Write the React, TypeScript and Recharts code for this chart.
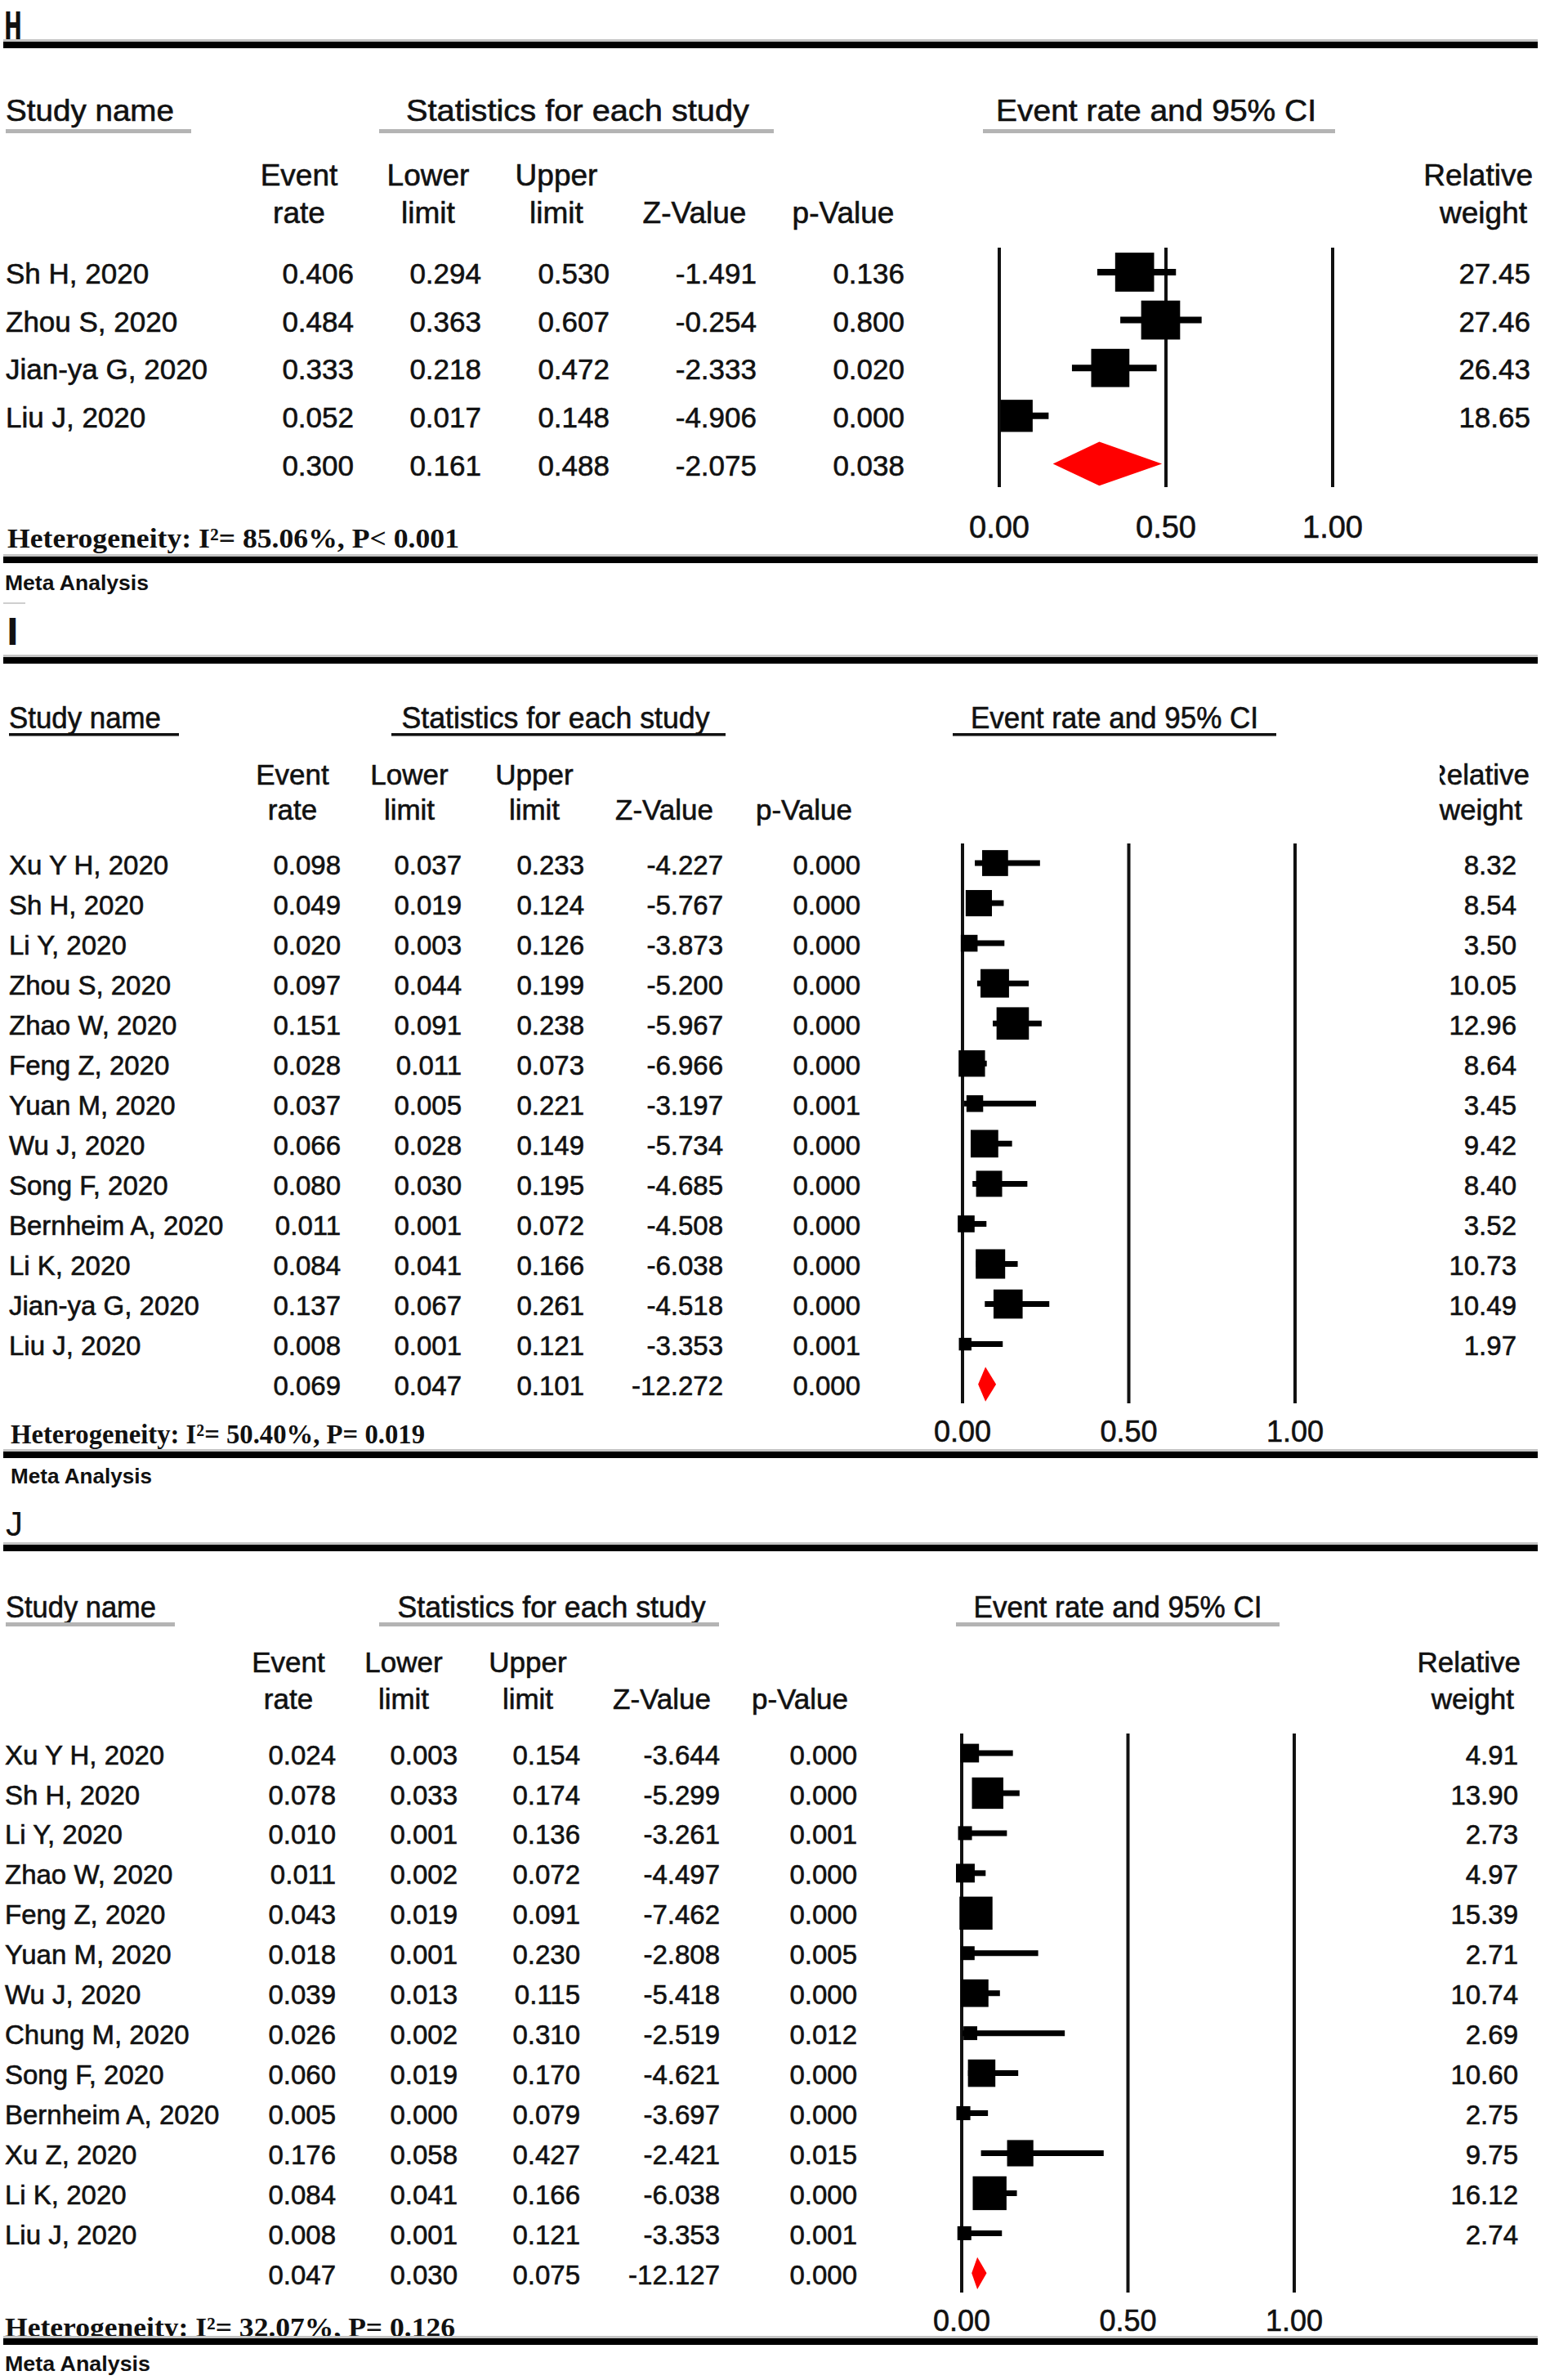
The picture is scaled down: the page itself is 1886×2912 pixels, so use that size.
import React from 'react';
import { ScatterChart, Scatter, XAxis, YAxis, ErrorBar, ReferenceLine } from 'recharts';

const PAGE_W = 1886;
const PAGE_H = 2912;
const AXIS_H = 20;

const SANS = "'Liberation Sans', Arial, Helvetica, sans-serif";
const SERIF = "'Liberation Serif', 'Times New Roman', serif";
const NARROW = "'Liberation Sans Narrow', 'DejaVu Sans Condensed', sans-serif";
const INK = 0.6; // slight stroke so the text looks as heavy as the scan

// ---------- panel H ----------
const studiesH = ['Sh H, 2020', 'Zhou S, 2020', 'Jian-ya G, 2020', 'Liu J, 2020'];
const rateH = [0.406, 0.484, 0.333, 0.052];
const lowerH = [0.294, 0.363, 0.218, 0.017];
const upperH = [0.53, 0.607, 0.472, 0.148];
const zH = [-1.491, -0.254, -2.333, -4.906];
const pH = [0.136, 0.8, 0.02, 0.0];
const weightH = [27.45, 27.46, 26.43, 18.65];
const pooledH = [0.3, 0.161, 0.488, -2.075, 0.038]; // rate, lower, upper, z, p
const hetH = 'Heterogeneity: I²= 85.06%, P< 0.001';

// ---------- panel I ----------
const studiesI = [
  'Xu Y H, 2020', 'Sh H, 2020', 'Li Y, 2020', 'Zhou S, 2020', 'Zhao W, 2020', 'Feng Z, 2020', 'Yuan M, 2020',
  'Wu J, 2020', 'Song F, 2020', 'Bernheim A, 2020', 'Li K, 2020', 'Jian-ya G, 2020', 'Liu J, 2020',
];
const rateI = [0.098, 0.049, 0.02, 0.097, 0.151, 0.028, 0.037, 0.066, 0.08, 0.011, 0.084, 0.137, 0.008];
const lowerI = [0.037, 0.019, 0.003, 0.044, 0.091, 0.011, 0.005, 0.028, 0.03, 0.001, 0.041, 0.067, 0.001];
const upperI = [0.233, 0.124, 0.126, 0.199, 0.238, 0.073, 0.221, 0.149, 0.195, 0.072, 0.166, 0.261, 0.121];
const zI = [-4.227, -5.767, -3.873, -5.2, -5.967, -6.966, -3.197, -5.734, -4.685, -4.508, -6.038, -4.518, -3.353];
const pI = [0, 0, 0, 0, 0, 0, 0.001, 0, 0, 0, 0, 0, 0.001];
const weightI = [8.32, 8.54, 3.5, 10.05, 12.96, 8.64, 3.45, 9.42, 8.4, 3.52, 10.73, 10.49, 1.97];
const pooledI = [0.069, 0.047, 0.101, -12.272, 0.0];
const hetI = 'Heterogeneity: I²= 50.40%, P= 0.019';

// ---------- panel J ----------
const studiesJ = [
  'Xu Y H, 2020', 'Sh H, 2020', 'Li Y, 2020', 'Zhao W, 2020', 'Feng Z, 2020', 'Yuan M, 2020', 'Wu J, 2020',
  'Chung M, 2020', 'Song F, 2020', 'Bernheim A, 2020', 'Xu Z, 2020', 'Li K, 2020', 'Liu J, 2020',
];
const rateJ = [0.024, 0.078, 0.01, 0.011, 0.043, 0.018, 0.039, 0.026, 0.06, 0.005, 0.176, 0.084, 0.008];
const lowerJ = [0.003, 0.033, 0.001, 0.002, 0.019, 0.001, 0.013, 0.002, 0.019, 0.0, 0.058, 0.041, 0.001];
const upperJ = [0.154, 0.174, 0.136, 0.072, 0.091, 0.23, 0.115, 0.31, 0.17, 0.079, 0.427, 0.166, 0.121];
const zJ = [-3.644, -5.299, -3.261, -4.497, -7.462, -2.808, -5.418, -2.519, -4.621, -3.697, -2.421, -6.038, -3.353];
const pJ = [0, 0, 0.001, 0, 0, 0.005, 0, 0.012, 0, 0, 0.015, 0, 0.001];
const weightJ = [4.91, 13.9, 2.73, 4.97, 15.39, 2.71, 10.74, 2.69, 10.6, 2.75, 9.75, 16.12, 2.74];
const pooledJ = [0.047, 0.03, 0.075, -12.127, 0.0];
const hetJ = 'Heterogeneity: I²= 32.07%, P= 0.126';

const axisTicks = [0, 0.5, 1];

type Row = {
  x: number; y: number; name: string; rate: number; lower: number; upper: number;
  z: number; p: number; weight: number | null; err?: number[];
};

const buildRows = (names: string[], rate: number[], lower: number[], upper: number[], z: number[], p: number[], weight: number[]): Row[] =>
  names.map((name, i) => ({
    x: rate[i], y: i, name, rate: rate[i], lower: lower[i], upper: upper[i], z: z[i], p: p[i], weight: weight[i],
    err: [rate[i] - lower[i], upper[i] - rate[i]],
  }));

// page-coordinate layout of each forest panel
const layoutH = {
  x0: 1223, x1: 1631, rowY0: 333, rowStep: 58.6, lineTop: 303, lineBottom: 596, tickY: 658, tickFont: 38,
  rowFont: 35, nameX: 7, colRight: [433, 589, 746, 926, 1107], weightRight: 1873, sqC: 9.1, ciW: 8, diaH: 0.46,
};
const layoutI = {
  x0: 1178, x1: 1585, rowY0: 1056, rowStep: 49.05, lineTop: 1032, lineBottom: 1717, tickY: 1764, tickFont: 36,
  rowFont: 33, nameX: 11, colRight: [417, 565, 715, 885, 1053], weightRight: 1856, sqC: 11, ciW: 7, diaH: 0.43,
};
const layoutJ = {
  x0: 1177, x1: 1584, rowY0: 2145, rowStep: 48.95, lineTop: 2121, lineBottom: 2805, tickY: 2852, tickFont: 36,
  rowFont: 33, nameX: 6, colRight: [411, 560, 710, 881, 1049], weightRight: 1858, sqC: 10.3, ciW: 7, diaH: 0.4,
};

type Layout = typeof layoutH;

const ForestChart = ({ rows, pooled, L }: { rows: Row[]; pooled: number[]; L: Layout }) => {
  const n = rows.length;
  const tableData: Row[] = [
    ...rows,
    { x: pooled[0], y: n, name: '', rate: pooled[0], lower: pooled[1], upper: pooled[2], z: pooled[3], p: pooled[4], weight: null },
  ];
  const diamond = [
    { x: pooled[1], y: n },
    { x: pooled[0], y: n - L.diaH },
    { x: pooled[2], y: n },
    { x: pooled[0], y: n + L.diaH },
  ];
  const domain = [(L.lineTop - L.rowY0) / L.rowStep, (L.lineBottom - L.rowY0) / L.rowStep];

  const square = (props: any) => {
    const { cx, cy, payload } = props;
    const s = L.sqC * Math.sqrt(payload.weight);
    return <rect x={cx - s / 2} y={cy - s / 2} width={s} height={s} fill="#000" />;
  };

  const textRow = (props: any) => {
    const { cy, payload } = props;
    const ty = cy + 0.35 * L.rowFont + 2;
    const cells = [payload.rate, payload.lower, payload.upper, payload.z, payload.p].map((v: number) => v.toFixed(3));
    return (
      <g fontFamily={SANS} fontSize={L.rowFont} fill="#111" stroke="#111" strokeWidth={INK}>
        {payload.name ? <text x={L.nameX} y={ty}>{payload.name}</text> : null}
        {cells.map((c: string, k: number) => (
          <text key={k} x={L.colRight[k]} y={ty} textAnchor="end">{c}</text>
        ))}
        {payload.weight != null ? (
          <text x={L.weightRight} y={ty} textAnchor="end">{payload.weight.toFixed(2)}</text>
        ) : null}
      </g>
    );
  };

  return (
    <div style={{ position: 'absolute', left: 0, top: 0 }}>
      <ScatterChart
        width={PAGE_W}
        height={PAGE_H}
        margin={{ top: L.lineTop, bottom: PAGE_H - L.lineBottom - AXIS_H, left: L.x0, right: PAGE_W - L.x1 }}
      >
        <XAxis
          type="number"
          dataKey="x"
          domain={[0, 1]}
          ticks={axisTicks}
          interval={0}
          axisLine={false}
          tickLine={false}
          height={AXIS_H}
          tick={(p: any) => (
            <text
              x={p.x}
              y={L.tickY}
              textAnchor="middle"
              fontSize={L.tickFont}
              fontFamily={SANS}
              fill="#111"
              stroke="#111"
              strokeWidth={INK}
            >
              {Number(p.payload.value).toFixed(2)}
            </text>
          )}
        />
        <YAxis type="number" dataKey="y" domain={domain} reversed hide width={0} />
        {axisTicks.map((v) => (
          <ReferenceLine key={v} x={v} stroke="#111" strokeWidth={4} />
        ))}
        <Scatter
          data={diamond}
          fill="#ff0000"
          isAnimationActive={false}
          shape={() => <g />}
          line={(p: any) => (
            <polygon points={p.points.map((pt: any) => `${pt.x},${pt.y}`).join(' ')} fill="#ff0000" stroke="none" />
          )}
        />
        <Scatter data={rows} shape={square} isAnimationActive={false}>
          <ErrorBar dataKey="err" direction="x" width={0} stroke="#000" strokeWidth={L.ciW} isAnimationActive={false} />
        </Scatter>
        <Scatter data={tableData} shape={textRow} isAnimationActive={false} />
      </ScatterChart>
    </div>
  );
};

// ---------- static frame (titles, rules, headers) ----------
type Frame = {
  letter: { t: string; x: number; y: number; fs: number; family: string; len?: number; bold?: boolean };
  topRule: number;
  bottomRule: number;
  head: { y: number; fs: number; studyX: number; studyLen: number; statsCx: number; statsLen: number; ciCx: number; ciLen: number; ulY: number; ulH: number; ulColor: string; ul: number[][] };
  cols: { y1: number; y2: number; fs: number; x: number[]; relRight: number; wRight: number; relClip?: number };
  het: { t: string; x: number; y: number; fs: number; len: number };
  meta: { x: number; y: number; fs: number; len: number };
};

const frames: Frame[] = [
  {
    letter: { t: 'H', x: 5, y: 49, fs: 48, family: NARROW, len: 22, bold: true },
    topRule: 51,
    bottomRule: 681,
    head: { y: 148, fs: 37, studyX: 7, studyLen: 206, statsCx: 707, statsLen: 420, ciCx: 1415, ciLen: 392, ulY: 158, ulH: 5, ulColor: '#b4b4b4', ul: [[7, 234], [464, 947], [1203, 1634]] },
    cols: { y1: 227, y2: 273, fs: 37, x: [366, 524, 681, 850, 1032], relRight: 1876, wRight: 1869 },
    het: { t: hetH, x: 9, y: 670, fs: 34, len: 553 },
    meta: { x: 6, y: 722, fs: 26, len: 176 },
  },
  {
    letter: { t: 'I', x: 8, y: 789, fs: 44, family: NARROW, bold: true },
    topRule: 804,
    bottomRule: 1776,
    head: { y: 891, fs: 36, studyX: 11, studyLen: 186, statsCx: 680, statsLen: 377, ciCx: 1364, ciLen: 352, ulY: 897, ulH: 3.5, ulColor: '#111', ul: [[11, 219], [479, 888], [1166, 1562]] },
    cols: { y1: 960, y2: 1003, fs: 35, x: [358, 501, 654, 813, 984], relRight: 1872, wRight: 1863, relClip: 1762 },
    het: { t: hetI, x: 13, y: 1766, fs: 33, len: 507 },
    meta: { x: 13, y: 1815, fs: 26, len: 173 },
  },
  {
    letter: { t: 'J', x: 7, y: 1879, fs: 42, family: SANS },
    topRule: 1890,
    bottomRule: 2861,
    head: { y: 1979, fs: 36, studyX: 7, studyLen: 184, statsCx: 675, statsLen: 377, ciCx: 1368, ciLen: 353, ulY: 1985, ulH: 5, ulColor: '#b4b4b4', ul: [[7, 214], [464, 880], [1170, 1566]] },
    cols: { y1: 2046, y2: 2091, fs: 35, x: [353, 494, 646, 810, 979], relRight: 1861, wRight: 1853 },
    het: { t: hetJ, x: 6, y: 2859, fs: 33, len: 551 },
    meta: { x: 6, y: 2901, fs: 26, len: 178 },
  },
];

const Rule = ({ y }: { y: number }) => (
  <g>
    <rect x={4} y={y - 3} width={1878} height={3} fill="#c4c4c4" />
    <rect x={4} y={y} width={1878} height={8} fill="#000" />
  </g>
);

const FrameLayer = ({ f, idx }: { f: Frame; idx: number }) => {
  const h = f.head;
  const c = f.cols;
  const clipId = `relclip${idx}`;
  return (
    <g fill="#111" fontFamily={SANS}>
      <text
        x={f.letter.x}
        y={f.letter.y}
        fontSize={f.letter.fs}
        fontFamily={f.letter.family}
        fontWeight={f.letter.bold ? 'bold' : 'normal'}
        textLength={f.letter.len}
        lengthAdjust={f.letter.len ? 'spacingAndGlyphs' : undefined}
      >
        {f.letter.t}
      </text>
      <Rule y={f.topRule} />

      <g fontSize={h.fs} stroke="#111" strokeWidth={INK}>
        <text x={h.studyX} y={h.y} textLength={h.studyLen} lengthAdjust="spacingAndGlyphs">Study name</text>
        <text x={h.statsCx} y={h.y} textAnchor="middle" textLength={h.statsLen} lengthAdjust="spacingAndGlyphs">
          Statistics for each study
        </text>
        <text x={h.ciCx} y={h.y} textAnchor="middle" textLength={h.ciLen} lengthAdjust="spacingAndGlyphs">
          Event rate and 95% CI
        </text>
      </g>
      {h.ul.map(([a, b], k) => (
        <rect key={k} x={a} y={h.ulY} width={b - a} height={h.ulH} fill={h.ulColor} />
      ))}

      <g fontSize={c.fs} textAnchor="middle" stroke="#111" strokeWidth={INK}>
        <text x={c.x[0]} y={c.y1}>Event</text>
        <text x={c.x[0]} y={c.y2}>rate</text>
        <text x={c.x[1]} y={c.y1}>Lower</text>
        <text x={c.x[1]} y={c.y2}>limit</text>
        <text x={c.x[2]} y={c.y1}>Upper</text>
        <text x={c.x[2]} y={c.y2}>limit</text>
        <text x={c.x[3]} y={c.y2}>Z-Value</text>
        <text x={c.x[4]} y={c.y2}>p-Value</text>
      </g>
      {c.relClip ? (
        <clipPath id={clipId}>
          <rect x={c.relClip} y={c.y1 - 60} width={PAGE_W - c.relClip} height={80} />
        </clipPath>
      ) : null}
      <g fontSize={c.fs} textAnchor="end" stroke="#111" strokeWidth={INK}>
        <text x={c.relRight} y={c.y1} clipPath={c.relClip ? `url(#${clipId})` : undefined}>Relative</text>
        <text x={c.wRight} y={c.y2}>weight</text>
      </g>

      <text
        x={f.het.x}
        y={f.het.y}
        fontFamily={SERIF}
        fontWeight="bold"
        fontSize={f.het.fs}
        textLength={f.het.len}
        lengthAdjust="spacingAndGlyphs"
      >
        {f.het.t}
      </text>
      <Rule y={f.bottomRule} />
      <text
        x={f.meta.x}
        y={f.meta.y}
        fontWeight="bold"
        fontSize={f.meta.fs}
        textLength={f.meta.len}
        lengthAdjust="spacingAndGlyphs"
      >
        Meta Analysis
      </text>
    </g>
  );
};

const rowsH = buildRows(studiesH, rateH, lowerH, upperH, zH, pH, weightH);
const rowsI = buildRows(studiesI, rateI, lowerI, upperI, zI, pI, weightI);
const rowsJ = buildRows(studiesJ, rateJ, lowerJ, upperJ, zJ, pJ, weightJ);

export default function App() {
  return (
    <div style={{ position: 'absolute', left: 0, top: 0, width: PAGE_W, height: PAGE_H, background: '#fff', overflow: 'hidden' }}>
      <svg width={PAGE_W} height={PAGE_H} style={{ position: 'absolute', left: 0, top: 0 }}>
        {frames.map((f, i) => (
          <FrameLayer key={i} f={f} idx={i} />
        ))}
        <rect x={4} y={737} width={27} height={2} fill="#cfcfcf" />
      </svg>
      <ForestChart rows={rowsH} pooled={pooledH} L={layoutH} />
      <ForestChart rows={rowsI} pooled={pooledI} L={layoutI} />
      <ForestChart rows={rowsJ} pooled={pooledJ} L={layoutJ} />
    </div>
  );
}
